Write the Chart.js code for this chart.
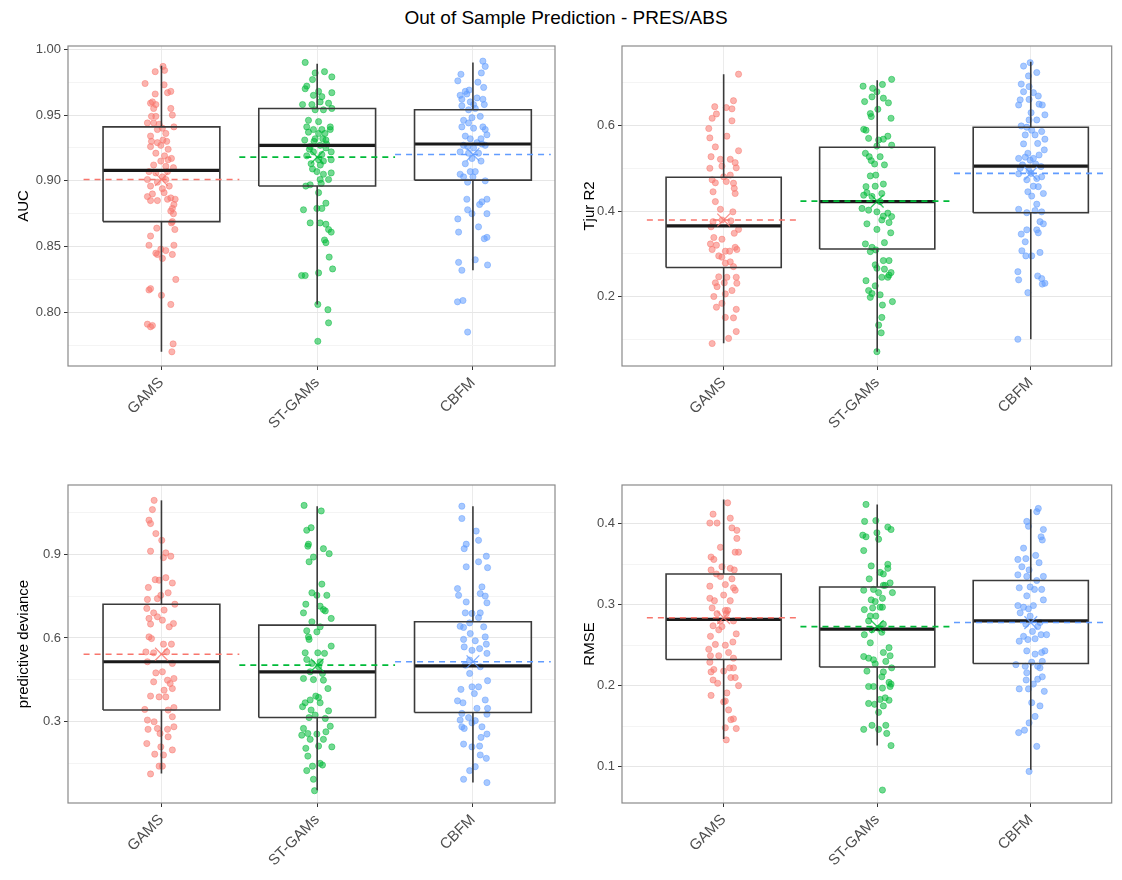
<!DOCTYPE html>
<html>
<head>
<meta charset="utf-8">
<script src="https://cdn.jsdelivr.net/npm/chart.js@4.4.0/dist/chart.umd.min.js"></script>
<style>
  body { margin: 0; background: #fff; }
  #wrap { position: relative; width: 1122px; height: 880px; overflow: hidden; }
  #title { position: absolute; left: 0; top: 6px; width: 1132px; text-align: center;
           font: 19px "Liberation Sans", Arial, sans-serif; color: #000; line-height: 24px; }
  canvas { position: absolute; }
</style>
</head>
<body>
<div id="wrap">
  <div id="title">Out of Sample Prediction - PRES/ABS</div>
  <canvas id="c1" width="575" height="420" style="left:0;top:30px"></canvas>
  <canvas id="c2" width="547" height="420" style="left:575px;top:30px"></canvas>
  <canvas id="c3" width="575" height="430" style="left:0;top:450px"></canvas>
  <canvas id="c4" width="547" height="430" style="left:575px;top:450px"></canvas>
</div>
<script>
const categories = ['GAMS', 'ST-GAMs', 'CBFM'];

// jittered points: [jitter offset, value]
const aucGams = [[0.01,0.987],[0.02,0.984],[-0.04,0.983],[-0.105,0.974],[0.017,0.973],[0.06,0.968],[0.039,0.967],[-0.04,0.966],[-0.058,0.960],[-0.07,0.959],[-0.036,0.958],[0.06,0.955],[-0.05,0.955],[-0.064,0.949],[-0.036,0.949],[0.07,0.950],[-0.09,0.944],[-0.05,0.944],[-0.015,0.943],[0.006,0.940],[0.08,0.941],[-0.026,0.939],[0.028,0.936],[-0.07,0.934],[0.01,0.931],[-0.064,0.930],[0.034,0.930],[-0.026,0.929],[-0.07,0.926],[-0.004,0.927],[0.043,0.924],[-0.036,0.921],[0.02,0.919],[0.043,0.916],[0.064,0.917],[-0.004,0.915],[-0.05,0.912],[0.028,0.911],[0.077,0.910],[-0.08,0.907],[0.039,0.907],[-0.036,0.906],[-0.09,0.901],[0.006,0.903],[0.028,0.901],[-0.026,0.899],[-0.07,0.896],[0.006,0.894],[0.05,0.896],[-0.058,0.890],[0.017,0.891],[-0.09,0.888],[0.06,0.887],[0.088,0.886],[-0.07,0.885],[-0.026,0.885],[0.039,0.886],[0.08,0.882],[0.07,0.879],[0.06,0.877],[0.077,0.875],[0.07,0.869],[0.064,0.868],[-0.03,0.864],[0.086,0.863],[-0.07,0.858],[-0.08,0.851],[0.08,0.851],[-0.004,0.848],[0.028,0.847],[-0.036,0.845],[-0.026,0.844],[0.07,0.844],[0.006,0.841],[0.092,0.825],[-0.07,0.818],[-0.08,0.817],[0,0.813],[0.06,0.806],[-0.09,0.791],[-0.058,0.790],[-0.07,0.789],[0.075,0.776],[0.067,0.770]];
const aucStGams = [[-0.077,0.990],[-0.013,0.982],[0.047,0.983],[-0.03,0.977],[0.094,0.979],[-0.067,0.972],[-0.077,0.970],[0.009,0.968],[-0.024,0.965],[0.094,0.967],[0.03,0.964],[0.019,0.960],[0.073,0.959],[-0.094,0.958],[-0.034,0.958],[0.094,0.955],[-0.013,0.954],[0.04,0.954],[-0.056,0.946],[0.009,0.945],[-0.067,0.941],[-0.024,0.939],[0.03,0.939],[0.084,0.941],[-0.056,0.937],[0.009,0.936],[0.05,0.936],[0.084,0.939],[-0.08,0.931],[-0.013,0.932],[0.036,0.932],[0.056,0.931],[-0.045,0.926],[0.019,0.927],[0.056,0.925],[-0.024,0.922],[0.09,0.922],[-0.067,0.919],[0.03,0.920],[0.009,0.916],[-0.039,0.913],[0.04,0.915],[0.09,0.916],[-0.002,0.907],[0.04,0.905],[0.09,0.906],[0.019,0.901],[0.073,0.901],[-0.045,0.897],[0.026,0.898],[-0.073,0.896],[0.009,0.891],[0.056,0.883],[-0.002,0.879],[-0.088,0.878],[0.03,0.879],[-0.045,0.868],[0.019,0.868],[0.056,0.867],[0.073,0.863],[0.09,0.861],[0.047,0.855],[0.056,0.853],[0.077,0.842],[0.099,0.833],[0.009,0.830],[-0.10,0.828],[-0.077,0.828],[0.004,0.806],[0.069,0.802],[0.073,0.792],[0.004,0.778],[-0.02,0.930],[0.06,0.928],[-0.05,0.924],[0.02,0.912],[-0.03,0.909]];
const aucCbfm = [[0.064,0.991],[0.079,0.987],[-0.077,0.981],[0.054,0.982],[-0.097,0.976],[0.032,0.975],[0.069,0.971],[-0.049,0.968],[-0.082,0.965],[-0.024,0.969],[-0.039,0.966],[0.026,0.963],[-0.071,0.962],[0.064,0.962],[-0.017,0.960],[0.004,0.958],[0.073,0.958],[-0.071,0.957],[-0.028,0.954],[0.015,0.955],[0.047,0.949],[-0.06,0.946],[-0.006,0.948],[-0.028,0.944],[-0.071,0.941],[0.064,0.941],[0.004,0.940],[0.079,0.939],[0.09,0.935],[-0.049,0.934],[-0.017,0.932],[0.052,0.932],[0.026,0.929],[-0.06,0.927],[-0.034,0.926],[0.058,0.928],[0.079,0.927],[0.004,0.925],[-0.082,0.922],[-0.028,0.921],[0.036,0.921],[-0.006,0.917],[0.052,0.915],[-0.049,0.913],[-0.017,0.907],[0.015,0.907],[-0.082,0.905],[-0.06,0.903],[0,0.903],[-0.034,0.899],[0.079,0.900],[0.09,0.886],[-0.039,0.886],[0.058,0.884],[0.043,0.882],[-0.034,0.878],[-0.006,0.875],[0.09,0.875],[-0.097,0.871],[0.036,0.865],[-0.092,0.861],[0.09,0.857],[0.073,0.856],[0.015,0.840],[-0.092,0.838],[0.094,0.836],[-0.071,0.832],[-0.099,0.808],[-0.064,0.809],[-0.034,0.785]];

const tjurGams = [[0.097,0.720],[0.064,0.658],[-0.058,0.644],[0.017,0.642],[0.054,0.639],[-0.047,0.627],[-0.075,0.617],[0.054,0.611],[-0.097,0.593],[0.021,0.575],[-0.09,0.571],[-0.054,0.550],[0.097,0.541],[-0.082,0.527],[-0.021,0.521],[0.043,0.521],[0.075,0.513],[-0.011,0.505],[-0.09,0.500],[0.082,0.501],[0.043,0.484],[0,0.480],[-0.075,0.473],[-0.054,0.466],[0.017,0.469],[0.064,0.465],[0.069,0.453],[-0.069,0.445],[0.075,0.441],[-0.054,0.422],[-0.021,0.404],[0.06,0.398],[-0.069,0.375],[-0.011,0.379],[0.047,0.377],[-0.082,0.363],[0.097,0.357],[0.069,0.348],[-0.064,0.338],[-0.011,0.334],[-0.086,0.323],[-0.047,0.320],[0.075,0.315],[-0.075,0.310],[0.086,0.310],[0.011,0.306],[0.039,0.306],[-0.032,0.295],[-0.011,0.292],[0.043,0.281],[0.011,0.278],[0.064,0.270],[-0.032,0.246],[0.021,0.245],[0.082,0.245],[-0.054,0.232],[0.004,0.232],[0.086,0.231],[-0.043,0.223],[0.054,0.214],[-0.064,0.200],[0.011,0.206],[-0.011,0.184],[-0.047,0.175],[0.082,0.170],[0.011,0.151],[0.064,0.150],[0.082,0.118],[0.032,0.102],[-0.075,0.090]];
const tjurStGams = [[0.094,0.708],[-0.092,0.692],[0.034,0.696],[-0.03,0.687],[-0.002,0.679],[0.04,0.664],[0.073,0.653],[-0.082,0.656],[-0.034,0.667],[0.004,0.638],[-0.045,0.628],[-0.039,0.621],[0.09,0.617],[-0.088,0.591],[-0.073,0.589],[0.069,0.575],[-0.056,0.570],[0.009,0.566],[0.04,0.568],[0.094,0.554],[-0.002,0.552],[-0.077,0.535],[-0.052,0.527],[0.019,0.527],[-0.039,0.518],[-0.017,0.510],[0.047,0.508],[-0.045,0.482],[-0.009,0.484],[-0.073,0.457],[-0.013,0.458],[-0.067,0.443],[0.04,0.463],[0.03,0.441],[-0.034,0.434],[-0.088,0.437],[0.019,0.422],[-0.099,0.406],[-0.056,0.402],[-0.002,0.398],[0.069,0.395],[0.04,0.388],[0.094,0.387],[0.03,0.379],[0.077,0.373],[-0.067,0.370],[-0.002,0.357],[0.088,0.349],[0.047,0.326],[-0.077,0.323],[-0.034,0.315],[-0.009,0.309],[-0.045,0.305],[-0.013,0.274],[0.04,0.284],[0.077,0.284],[-0.002,0.266],[0.047,0.264],[0.09,0.256],[0.03,0.245],[0.069,0.245],[0.077,0.250],[-0.073,0.237],[-0.013,0.225],[-0.056,0.214],[-0.034,0.207],[-0.045,0.198],[0.019,0.204],[0.099,0.188],[0.034,0.180],[0.03,0.151],[0.009,0.133],[0.026,0.115],[-0.002,0.071]];
const tjurCbfm = [[-0.047,0.739],[-0.004,0.747],[0.039,0.724],[-0.015,0.716],[-0.062,0.697],[-0.011,0.691],[-0.047,0.679],[0.017,0.677],[0.049,0.669],[-0.069,0.660],[-0.011,0.661],[-0.079,0.648],[0.054,0.650],[0.075,0.648],[0.002,0.630],[0.092,0.625],[0.039,0.613],[-0.011,0.613],[-0.062,0.599],[-0.026,0.596],[0.006,0.589],[0.071,0.586],[-0.036,0.578],[0.028,0.578],[0.092,0.568],[-0.047,0.557],[0.045,0.558],[0.088,0.543],[-0.019,0.535],[0.054,0.531],[0.017,0.523],[-0.079,0.523],[-0.036,0.526],[-0.004,0.519],[-0.054,0.508],[0.032,0.510],[-0.069,0.500],[0.067,0.504],[-0.011,0.494],[0.002,0.488],[-0.079,0.487],[0.071,0.480],[-0.026,0.473],[0.039,0.476],[0.017,0.458],[0.049,0.457],[-0.019,0.445],[0.082,0.441],[0.006,0.435],[0.039,0.416],[-0.079,0.404],[-0.026,0.396],[0.028,0.401],[0.071,0.398],[0.06,0.375],[0.082,0.370],[0.039,0.356],[-0.062,0.346],[-0.026,0.356],[0.049,0.349],[-0.036,0.328],[-0.058,0.307],[0.006,0.295],[-0.032,0.295],[0.06,0.303],[-0.084,0.258],[-0.079,0.239],[0.045,0.248],[0.071,0.242],[0.092,0.231],[0.075,0.229],[-0.019,0.209],[-0.084,0.100]];

const devGams = [[-0.047,1.093],[-0.058,1.060],[-0.08,1.022],[-0.07,1.010],[-0.036,0.974],[0.002,0.950],[-0.07,0.911],[0.028,0.905],[0.06,0.893],[0.013,0.888],[-0.04,0.809],[-0.015,0.807],[0.028,0.816],[0.07,0.797],[-0.084,0.781],[0.043,0.762],[-0.004,0.753],[-0.09,0.738],[-0.026,0.741],[0.086,0.721],[-0.094,0.706],[-0.05,0.690],[0.017,0.700],[-0.08,0.670],[-0.026,0.676],[-0.07,0.650],[0.006,0.664],[0.077,0.652],[0.05,0.640],[-0.08,0.604],[-0.064,0.598],[0.013,0.578],[0.064,0.578],[-0.10,0.550],[-0.05,0.547],[0.034,0.550],[-0.09,0.515],[0.07,0.509],[-0.036,0.475],[0.006,0.479],[-0.05,0.443],[0.039,0.449],[0.08,0.455],[0.056,0.437],[0.07,0.419],[0.017,0.413],[-0.07,0.392],[-0.015,0.389],[0.028,0.389],[-0.107,0.344],[0.08,0.351],[0.043,0.342],[0.07,0.318],[-0.09,0.306],[-0.047,0.300],[-0.026,0.276],[-0.086,0.273],[0.08,0.282],[0.039,0.273],[-0.009,0.258],[0.043,0.246],[-0.094,0.222],[-0.004,0.210],[0.07,0.199],[-0.043,0.184],[0.013,0.181],[-0.015,0.141],[0.006,0.141],[-0.07,0.113]];
const devStGams = [[-0.084,1.075],[0.026,1.055],[-0.039,0.995],[-0.067,0.986],[-0.056,0.936],[-0.06,0.929],[0.04,0.920],[0.077,0.902],[-0.024,0.890],[-0.052,0.873],[0.03,0.793],[-0.034,0.762],[-0.002,0.753],[0.062,0.753],[-0.073,0.721],[0.019,0.714],[0.052,0.697],[0.04,0.702],[-0.088,0.690],[0.09,0.670],[-0.034,0.658],[0.019,0.640],[-0.067,0.626],[-0.002,0.622],[-0.056,0.604],[-0.052,0.595],[0.09,0.571],[-0.077,0.547],[0.004,0.547],[0.047,0.545],[-0.067,0.523],[-0.034,0.509],[0.019,0.515],[0.009,0.497],[-0.045,0.479],[0.034,0.473],[-0.088,0.455],[-0.024,0.451],[0.04,0.449],[0.069,0.419],[-0.009,0.392],[0.009,0.387],[-0.045,0.378],[-0.077,0.368],[-0.094,0.354],[0.019,0.368],[-0.039,0.342],[0.073,0.339],[-0.013,0.324],[-0.052,0.315],[0.052,0.312],[-0.088,0.276],[0.084,0.284],[-0.06,0.258],[-0.099,0.252],[-0.002,0.256],[0.056,0.264],[-0.045,0.237],[0.04,0.237],[0.094,0.210],[0.009,0.213],[-0.073,0.205],[-0.06,0.177],[0.019,0.151],[-0.03,0.141],[0.034,0.145],[-0.067,0.125],[-0.024,0.094],[-0.017,0.053]];
const devCbfm = [[-0.071,1.072],[-0.071,1.028],[0.021,0.983],[0.036,0.950],[-0.043,0.936],[-0.056,0.920],[0.086,0.893],[0.036,0.873],[-0.043,0.855],[0.094,0.852],[-0.099,0.777],[0.058,0.783],[-0.092,0.753],[0.047,0.759],[0.079,0.750],[-0.043,0.729],[0.09,0.726],[-0.049,0.690],[-0.006,0.688],[0.047,0.690],[0.036,0.673],[-0.082,0.642],[-0.021,0.654],[0.069,0.640],[-0.06,0.638],[-0.017,0.616],[0.079,0.604],[0.015,0.590],[-0.06,0.595],[-0.056,0.568],[0.086,0.578],[-0.006,0.556],[0.043,0.562],[0.09,0.545],[-0.021,0.521],[-0.049,0.503],[0.047,0.497],[-0.021,0.473],[0.094,0.447],[-0.077,0.416],[-0.006,0.425],[0.036,0.425],[0.009,0.401],[-0.099,0.375],[-0.064,0.368],[0.079,0.378],[0.026,0.348],[0.094,0.348],[-0.071,0.330],[0.09,0.327],[-0.028,0.315],[-0.082,0.306],[0.015,0.304],[0.058,0.282],[-0.006,0.296],[-0.056,0.276],[-0.071,0.282],[0.09,0.256],[0.052,0.244],[0.043,0.213],[-0.06,0.220],[-0.006,0.210],[0.047,0.181],[0.086,0.169],[0.015,0.139],[-0.06,0.094],[0.09,0.082],[-0.021,0.125]];

const rmseGams = [[0.026,0.426],[-0.069,0.412],[-0.09,0.401],[-0.043,0.401],[0.043,0.407],[0.054,0.395],[0.086,0.392],[0.086,0.382],[-0.021,0.371],[0.075,0.365],[0.097,0.365],[-0.082,0.359],[-0.064,0.356],[-0.011,0.347],[0.043,0.345],[0.069,0.343],[-0.082,0.343],[-0.047,0.338],[-0.021,0.335],[0.054,0.332],[0.011,0.325],[-0.09,0.323],[0.064,0.321],[0.075,0.318],[0,0.312],[-0.09,0.308],[-0.06,0.305],[0.043,0.305],[-0.075,0.296],[0.011,0.293],[0.026,0.293],[-0.043,0.289],[0.017,0.289],[0.064,0.280],[-0.021,0.280],[-0.069,0.274],[-0.011,0.273],[-0.032,0.269],[0.082,0.264],[-0.086,0.261],[0.06,0.254],[-0.054,0.251],[0.011,0.250],[-0.097,0.245],[0.032,0.241],[-0.086,0.237],[-0.032,0.237],[0.064,0.234],[-0.09,0.229],[0.039,0.222],[0.064,0.222],[-0.064,0.220],[0,0.218],[-0.082,0.217],[0.047,0.210],[0.075,0.210],[-0.069,0.207],[-0.039,0.203],[0.097,0.200],[0.021,0.191],[-0.082,0.188],[0.011,0.181],[0,0.180],[0.032,0.170],[0.064,0.159],[0.047,0.158],[0.011,0.148],[0.082,0.147],[0.017,0.133]];
const rmseStGams = [[-0.073,0.424],[-0.009,0.404],[-0.082,0.403],[0.069,0.396],[0.09,0.393],[-0.094,0.386],[-0.073,0.384],[-0.002,0.389],[0.009,0.381],[-0.088,0.367],[-0.039,0.348],[0.069,0.350],[0.069,0.345],[0.019,0.340],[0.04,0.338],[-0.052,0.332],[0.04,0.324],[0.084,0.327],[0.052,0.324],[-0.088,0.318],[-0.024,0.319],[0.009,0.315],[0.099,0.315],[-0.039,0.306],[-0.013,0.304],[0.034,0.308],[0.019,0.297],[-0.084,0.294],[-0.03,0.296],[0.034,0.297],[-0.045,0.286],[-0.009,0.286],[-0.056,0.280],[0.04,0.276],[0.009,0.271],[-0.034,0.269],[-0.084,0.263],[0.03,0.266],[-0.045,0.253],[0.077,0.247],[0.04,0.241],[-0.088,0.236],[-0.056,0.234],[-0.024,0.232],[0.084,0.237],[0.056,0.230],[-0.013,0.227],[-0.067,0.218],[0.04,0.217],[0.094,0.222],[0.03,0.211],[0.077,0.204],[0.09,0.202],[-0.056,0.199],[-0.024,0.199],[0.034,0.197],[0.084,0.199],[0.019,0.183],[0.077,0.182],[0.052,0.185],[-0.056,0.178],[-0.017,0.177],[0.04,0.175],[0.009,0.167],[-0.088,0.146],[-0.034,0.151],[0.009,0.146],[0.056,0.151],[0.062,0.141],[0.09,0.126],[0.034,0.071]];
const rmseCbfm = [[0.049,0.419],[0.039,0.415],[-0.026,0.403],[-0.015,0.397],[0.082,0.393],[0.067,0.384],[0.075,0.380],[-0.047,0.370],[0.032,0.361],[-0.084,0.356],[-0.032,0.357],[0.054,0.352],[-0.058,0.347],[-0.011,0.343],[-0.084,0.337],[-0.026,0.335],[0.082,0.335],[0.039,0.330],[-0.075,0.321],[-0.004,0.322],[0.024,0.319],[0.071,0.319],[-0.026,0.311],[0.082,0.306],[-0.084,0.299],[-0.047,0.297],[-0.015,0.295],[0.017,0.299],[-0.069,0.290],[-0.004,0.286],[-0.032,0.276],[0.06,0.278],[0.045,0.273],[0.011,0.267],[0.067,0.263],[0.103,0.263],[-0.047,0.261],[-0.075,0.255],[-0.019,0.257],[0.028,0.258],[-0.026,0.243],[0.028,0.239],[0.071,0.241],[0.092,0.243],[-0.097,0.226],[-0.036,0.224],[0.006,0.229],[0.075,0.230],[0.045,0.224],[-0.026,0.216],[0.06,0.222],[0.045,0.208],[0.075,0.211],[-0.03,0.207],[-0.075,0.196],[-0.015,0.196],[0.017,0.202],[0.088,0.193],[0.006,0.179],[0.06,0.175],[0.028,0.162],[-0.011,0.154],[-0.041,0.145],[-0.079,0.142],[0.039,0.125],[-0.011,0.094]];

// box stats per category: [lower whisker, Q1, median, Q3, upper whisker]
const aucBox = [[0.770, 0.869, 0.908, 0.941, 0.9875], [0.806, 0.896, 0.927, 0.955, 0.989], [0.832, 0.9005, 0.928, 0.954, 0.990]];
const aucMean = [0.901, 0.918, 0.920];
const tjurBox = [[0.0905, 0.268, 0.365, 0.479, 0.720], [0.071, 0.311, 0.422, 0.549, 0.706], [0.100, 0.396, 0.505, 0.596, 0.749]];
const tjurMean = [0.379, 0.423, 0.488];
const devBox = [[0.115, 0.342, 0.515, 0.721, 1.093], [0.055, 0.315, 0.479, 0.646, 1.072], [0.082, 0.333, 0.500, 0.658, 1.072]];
const devMean = [0.542, 0.503, 0.515];
const rmseBox = [[0.134, 0.2324, 0.282, 0.338, 0.430], [0.126, 0.223, 0.270, 0.322, 0.424], [0.096, 0.2274, 0.280, 0.330, 0.418]];
const rmseMean = [0.284, 0.273, 0.278];

// axis ticks
const aucTicks = [0.80, 0.85, 0.90, 0.95, 1.00];
const aucLabels = ['0.80', '0.85', '0.90', '0.95', '1.00'];
const aucMinor = [0.775, 0.825, 0.875, 0.925, 0.975];
const tjurTicks = [0.2, 0.4, 0.6];
const tjurLabels = ['0.2', '0.4', '0.6'];
const tjurMinor = [0.1, 0.3, 0.5, 0.7];
const devTicks = [0.3, 0.6, 0.9];
const devLabels = ['0.3', '0.6', '0.9'];
const devMinor = [0.15, 0.45, 0.75, 1.05];
const rmseTicks = [0.1, 0.2, 0.3, 0.4];
const rmseLabels = ['0.1', '0.2', '0.3', '0.4'];
const rmseMinor = [0.15, 0.25, 0.35];

const colors = ['#F8766D', '#00BA38', '#619CFF'];
const FONT = '"Liberation Sans", Arial, sans-serif';
const BOX_HALF = 0.375;

function alpha(hex, a) {
    const n = parseInt(hex.slice(1), 16);
    return 'rgba(' + (n >> 16) + ',' + ((n >> 8) & 255) + ',' + (n & 255) + ',' + a + ')';
}

function segment(points, color, width, extra) {
    return Object.assign({
        data: points, showLine: true, pointRadius: 0, borderColor: color,
        borderWidth: width, tension: 0, borderCapStyle: 'butt', borderJoinStyle: 'miter', order: 1
    }, extra || {});
}

function buildDatasets(groups, box, means) {
    const sets = [];
    groups.forEach(function (pts, i) {
        const x = i + 1;
        const [lo, q1, med, q3, hi] = box[i];
        const c = colors[i];
        sets.push({
            data: pts.map(p => ({ x: x + p[0], y: p[1] })),
            pointRadius: 3.1, backgroundColor: alpha(c, 0.55), borderColor: alpha(c, 0.6),
            borderWidth: 0.8, order: 3
        });
        sets.push(segment([{ x: x, y: q3 }, { x: x, y: hi }], '#3a3a3a', 1.6));
        sets.push(segment([{ x: x, y: q1 }, { x: x, y: lo }], '#3a3a3a', 1.6));
        sets.push(segment([
            { x: x - BOX_HALF, y: q1 }, { x: x + BOX_HALF, y: q1 }, { x: x + BOX_HALF, y: q3 },
            { x: x - BOX_HALF, y: q3 }, { x: x - BOX_HALF, y: q1 }
        ], '#3a3a3a', 1.6));
        sets.push(segment([{ x: x - BOX_HALF, y: med }, { x: x + BOX_HALF, y: med }], '#1a1a1a', 3.2));
        sets.push(segment([{ x: x - 0.5, y: means[i] }, { x: x + 0.5, y: means[i] }], c, 1.6,
            { borderDash: [6, 5], order: 0 }));
        sets.push({
            data: [{ x: x, y: means[i] }], pointStyle: 'crossRot', pointRadius: 9,
            borderColor: alpha(c, 0.8), borderWidth: 1.3, backgroundColor: 'transparent', order: 0
        });
    });
    return sets;
}

const panelBorder = {
    id: 'panelBorder',
    afterDatasetsDraw(chart) {
        const a = chart.chartArea;
        const ctx = chart.ctx;
        ctx.save();
        ctx.strokeStyle = '#8a8a8a';
        ctx.lineWidth = 1.2;
        ctx.strokeRect(a.left, a.top, a.right - a.left, a.bottom - a.top);
        ctx.restore();
    }
};

function makePanel(id, p) {
    const ctx = document.getElementById(id).getContext('2d');
    return new Chart(ctx, {
        type: 'scatter',
        data: { datasets: buildDatasets(p.groups, p.box, p.mean) },
        options: {
            responsive: false,
            animation: false,
            layout: { padding: { left: 0, right: p.padRight, top: p.padTop, bottom: 0 } },
            plugins: { legend: { display: false }, tooltip: { enabled: false } },
            scales: {
                x: {
                    type: 'linear', min: p.xMin, max: p.xMax,
                    afterBuildTicks: s => { s.ticks = categories.map((c, i) => ({ value: i + 1 })); },
                    afterFit: s => { s.height = p.axisH; s.paddingLeft = 0; s.paddingRight = 0; },
                    ticks: {
                        autoSkip: false, minRotation: 45, maxRotation: 45, padding: 4,
                        color: '#4d4d4d', font: { family: FONT, size: 15 },
                        callback: v => categories[Math.round(v) - 1]
                    },
                    grid: { color: '#ebebeb', lineWidth: 1, tickLength: 4, tickColor: '#333' },
                    border: { display: false }
                },
                y: {
                    type: 'linear', min: p.yMin, max: p.yMax,
                    afterBuildTicks: s => {
                        s.ticks = p.ticks.map(v => ({ value: v }))
                            .concat(p.minor.map(v => ({ value: v, minor: true })))
                            .sort((a, b) => a.value - b.value);
                    },
                    afterFit: s => { s.width = p.axisW; s.paddingTop = 0; s.paddingBottom = 0; },
                    ticks: {
                        padding: 3, color: '#4d4d4d', font: { family: FONT, size: 13 },
                        callback: function (v, i, ticks) {
                            if (ticks[i].minor) return '';
                            return p.labels[p.ticks.indexOf(v)];
                        }
                    },
                    grid: {
                        tickLength: 4,
                        color: c => (c.tick && c.tick.minor) ? '#f4f4f4' : '#e6e6e6',
                        tickColor: c => (c.tick && c.tick.minor) ? 'rgba(0,0,0,0)' : '#333'
                    },
                    border: { display: false },
                    title: {
                        display: true, text: p.title, color: '#000',
                        font: { family: FONT, size: 15 }, padding: { top: p.titlePad, bottom: 0 }
                    }
                }
            }
        },
        plugins: [panelBorder]
    });
}

makePanel('c1', {
    title: 'AUC', groups: [aucGams, aucStGams, aucCbfm], box: aucBox, mean: aucMean,
    ticks: aucTicks, labels: aucLabels, minor: aucMinor, yMin: 0.7592, yMax: 1.0025,
    xMin: 0.4, xMax: 3.527, axisW: 68, axisH: 84, padTop: 16, padRight: 20, titlePad: 15
});
makePanel('c2', {
    title: 'Tjur R2', groups: [tjurGams, tjurStGams, tjurCbfm], box: tjurBox, mean: tjurMean,
    ticks: tjurTicks, labels: tjurLabels, minor: tjurMinor, yMin: 0.0374, yMax: 0.786,
    xMin: 0.338, xMax: 3.527, axisW: 47, axisH: 84, padTop: 16, padRight: 4, titlePad: 6
});
makePanel('c3', {
    title: 'predictive deviance', groups: [devGams, devStGams, devCbfm], box: devBox, mean: devMean,
    ticks: devTicks, labels: devLabels, minor: devMinor, yMin: 0.009, yMax: 1.148,
    xMin: 0.4, xMax: 3.527, axisW: 68, axisH: 77, padTop: 35, padRight: 20, titlePad: 15
});
makePanel('c4', {
    title: 'RMSE', groups: [rmseGams, rmseStGams, rmseCbfm], box: rmseBox, mean: rmseMean,
    ticks: rmseTicks, labels: rmseLabels, minor: rmseMinor, yMin: 0.055, yMax: 0.448,
    xMin: 0.338, xMax: 3.527, axisW: 47, axisH: 77, padTop: 35, padRight: 4, titlePad: 6
});
</script>
</body>
</html>
